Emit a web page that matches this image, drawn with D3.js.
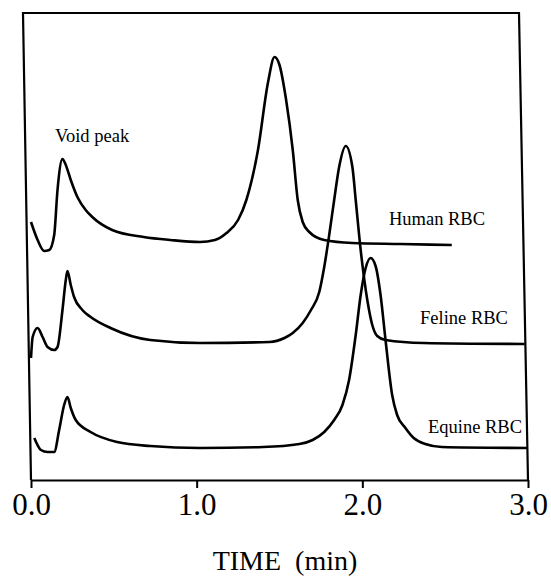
<!DOCTYPE html>
<html>
<head>
<meta charset="utf-8">
<script src="https://cdn.jsdelivr.net/npm/d3@7"></script>
<style>
  body { margin: 0; background: #fff; }
</style>
</head>
<body>
<div id="chart"></div>
<script>
// chromatogram traces, time in minutes, detector response in arbitrary units
const humanTime = [0.00, 0.04, 0.08, 0.11, 0.14, 0.16, 0.19, 0.21, 0.24, 0.28, 0.33, 0.37, 0.49, 0.68, 0.84, 1.02, 1.11, 1.18, 1.25, 1.30, 1.37, 1.43, 1.47, 1.50, 1.54, 1.58, 1.61, 1.64, 1.68, 1.77, 1.94, 2.23, 2.54];
const humanResp = [258, 240, 229, 230, 245, 290, 321, 315, 300, 283, 270, 263, 250, 243, 240, 238, 240, 247, 260, 280, 330, 397, 423, 415, 380, 330, 280, 258, 248, 240, 237, 236, 235];

const felineTime = [0.00, 0.01, 0.04, 0.07, 0.10, 0.14, 0.16, 0.19, 0.21, 0.22, 0.24, 0.26, 0.31, 0.36, 0.48, 0.72, 1.02, 1.44, 1.53, 1.58, 1.64, 1.69, 1.74, 1.77, 1.80, 1.83, 1.86, 1.90, 1.94, 1.96, 1.99, 2.03, 2.06, 2.09, 2.14, 2.37, 2.98];
const felineResp = [122, 143, 152, 143, 133, 130, 133, 170, 200, 209, 195, 183, 170, 163, 152, 140, 137, 138, 142, 147, 157, 170, 188, 213, 245, 280, 313, 334, 313, 280, 230, 180, 155, 144, 140, 137, 136];

const equineTime = [0.02, 0.06, 0.10, 0.14, 0.17, 0.20, 0.22, 0.24, 0.27, 0.36, 0.52, 0.72, 1.02, 1.40, 1.62, 1.70, 1.77, 1.83, 1.88, 1.92, 1.96, 1.99, 2.02, 2.05, 2.08, 2.11, 2.14, 2.18, 2.21, 2.26, 2.31, 2.38, 2.48, 3.00];
const equineResp = [42, 30, 28, 28, 50, 75, 83, 72, 60, 48, 38, 34, 32, 33, 36, 40, 48, 60, 75, 100, 145, 185, 212, 222, 214, 185, 140, 85, 65, 52, 42, 36, 33, 32];

const xTicks = [0, 1, 2, 3];
const seriesNames = ["Human RBC", "Feline RBC", "Equine RBC"];

const serif = "'Liberation Serif', 'DejaVu Serif', 'Times New Roman', serif";
const width = 551, height = 579;
const x = d3.scaleLinear().domain([0, 3]).range([31, 528]);
const y = d3.scaleLinear().domain([0, 467]).range([480, 13]);

const svg = d3.select("#chart").append("svg")
  .attr("width", width)
  .attr("height", height);

// frame (top, left, right sides; bottom is the axis)
svg.append("path")
  .attr("d", "M31,480 L23,13 L519,13 L528,480")
  .attr("fill", "none")
  .attr("stroke", "#000")
  .attr("stroke-width", 2.2);

const axis = svg.append("g")
  .attr("transform", "translate(0,480)")
  .call(d3.axisBottom(x).tickValues(xTicks).tickSize(8).tickSizeOuter(0).tickFormat(d3.format(".1f")));
axis.attr("font-family", serif);
axis.select(".domain").attr("stroke", "#000").attr("stroke-width", 2.2);
axis.selectAll(".tick line").attr("stroke", "#000").attr("stroke-width", 2);
axis.selectAll(".tick text")
  .attr("y", 0)
  .attr("dy", 35)
  .attr("fill", "#000")
  .style("font-family", serif)
  .style("font-size", "31px");

svg.append("text")
  .attr("x", 285)
  .attr("y", 570)
  .attr("text-anchor", "middle")
  .style("font-family", serif)
  .style("font-size", "28px")
  .style("white-space", "pre")
  .text("TIME  (min)");

const line = d3.line()
  .x(d => x(d[0]))
  .y(d => y(d[1]))
  .curve(d3.curveMonotoneX);

const traces = [
  d3.zip(humanTime, humanResp),
  d3.zip(felineTime, felineResp),
  d3.zip(equineTime, equineResp)
];

svg.selectAll("path.trace")
  .data(traces)
  .enter().append("path")
  .attr("class", "trace")
  .attr("d", line)
  .attr("fill", "none")
  .attr("stroke", "#000")
  .attr("stroke-width", 2.6)
  .attr("stroke-linejoin", "round");

// trace labels
const labelPos = [[437, 225], [464, 324], [475, 433]];
svg.selectAll("text.series")
  .data(seriesNames)
  .enter().append("text")
  .attr("class", "series")
  .attr("x", (d, i) => labelPos[i][0])
  .attr("y", (d, i) => labelPos[i][1])
  .attr("text-anchor", "middle")
  .style("font-family", serif)
  .style("font-size", "18.5px")
  .text(d => d);

svg.append("text")
  .attr("x", 55)
  .attr("y", 142)
  .style("font-family", serif)
  .style("font-size", "18.5px")
  .text("Void peak");
</script>
</body>
</html>
